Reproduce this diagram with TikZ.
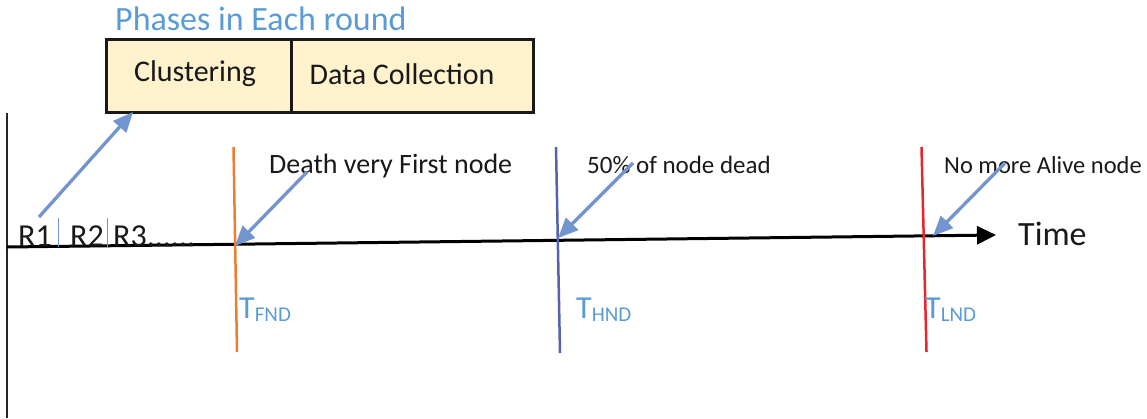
\documentclass[tikz,border=0pt]{standalone}
\usepackage{fontspec}
\setmainfont{Carlito}
\usetikzlibrary{arrows.meta}
\definecolor{txtblue}{RGB}{91,155,213}
\definecolor{arrblue}{RGB}{114,148,207}
\definecolor{boxfill}{RGB}{255,242,204}
\definecolor{orangeln}{RGB}{237,125,49}
\definecolor{purpleln}{RGB}{84,98,178}
\definecolor{redln}{RGB}{232,38,42}
\newcommand{\fs}[1]{\fontsize{#1}{#1}\selectfont}
\tikzset{
  lbl/.style={inner sep=0pt, anchor=base west, text=black!90},
  phase/.style={draw=black!90, line width=3pt, fill=boxfill, inner sep=0pt},
  bluearrow/.style={draw=arrblue, line width=3.3pt, -{Triangle[length=20pt,width=17pt]}},
  axisline/.style={draw=black, line width=3pt, -{Triangle[length=19pt,width=18pt]}},
  milestone/.style={line width=2.5pt},
  sepline/.style={draw=arrblue, line width=1pt},
  tlabel/.style={inner sep=0pt, anchor=base west, text=txtblue}
}
\begin{document}
\begin{tikzpicture}[x=1pt,y=-1pt]
\useasboundingbox (0,0) rectangle (1147,418);
% phases box
\node[phase, minimum width=185pt, minimum height=73pt] (clu) at (198.5,76) {};
\node[phase, minimum width=242pt, minimum height=73pt] (dat) at (412,76) {};
\node[inner sep=0pt, text=black!90, font=\fs{30}] (clut) at (195,74) {Clustering};
\node[inner sep=0pt, text=black!90, font=\fs{30}] (datt) at (402,74) {Data Collection};
\node[inner sep=0pt, anchor=base west, text=txtblue, font=\fs{34}] (title) at (115,30) {Phases in Each round};
% left vertical line
\coordinate (lv0) at (7,113);
\coordinate (lv1) at (7,418);
\draw[line width=2.5pt, black!85] (lv0) -- (lv1);
% time axis
\coordinate (ax0) at (7,247);
\coordinate (ax1) at (996,235);
\draw[axisline] (ax0) -- (ax1);
\node[lbl, font=\fs{34}] (time) at (1018,245) {Time};
% rounds
\node[lbl, font=\fs{32}] (r1) at (18,246) {R1};
\node[lbl, font=\fs{32}] (r2) at (70,246) {R2};
\node[lbl, font=\fs{32}] (r3) at (113,246) {R3......};
\coordinate (s1a) at (58.5,218); \coordinate (s1b) at (58.5,247);
\coordinate (s2a) at (107,218); \coordinate (s2b) at (107,247);
\draw[sepline] (s1a) -- (s1b);
\draw[sepline] (s2a) -- (s2b);
% milestone lines
\coordinate (o0) at (233.5,147); \coordinate (o1) at (237,352);
\coordinate (p0) at (556,147); \coordinate (p1) at (560,353);
\coordinate (q0) at (921.5,147); \coordinate (q1) at (926.5,352);
\draw[milestone, orangeln] (o0) -- (o1);
\draw[milestone, purpleln] (p0) -- (p1);
\draw[milestone, redln] (q0) -- (q1);
% labels
\node[lbl, font=\fs{28}] (fnd) at (269,173) {Death very First node};
\node[lbl, font=\fs{25}] (hnd) at (587,173) {50\% of node dead};
\node[lbl, font=\fs{24.5}] (lnd) at (944,173) {No more Alive node};
\node[tlabel] (tf) at (239,318) {{\fs{32}T}{\fs{21}\raisebox{-3pt}{FND}}};
\node[tlabel] (th) at (576,318) {{\fs{32}T}{\fs{21}\raisebox{-3pt}{HND}}};
\node[tlabel] (tl) at (925,318) {{\fs{32}T}{\fs{21}\raisebox{-3pt}{LND}}};
% blue arrows
\coordinate (a1s) at (39,217); \coordinate (a1e) at (133,112);
\coordinate (a2s) at (307,172); \coordinate (a2e) at (235,246);
\coordinate (a3s) at (633,163); \coordinate (a3e) at (558,238);
\coordinate (a4s) at (1005,163); \coordinate (a4e) at (933,236);
\draw[bluearrow] (a1s) -- (a1e);
\draw[bluearrow] (a2s) -- (a2e);
\draw[bluearrow] (a3s) -- (a3e);
\draw[bluearrow] (a4s) -- (a4e);
\end{tikzpicture}
\end{document}
